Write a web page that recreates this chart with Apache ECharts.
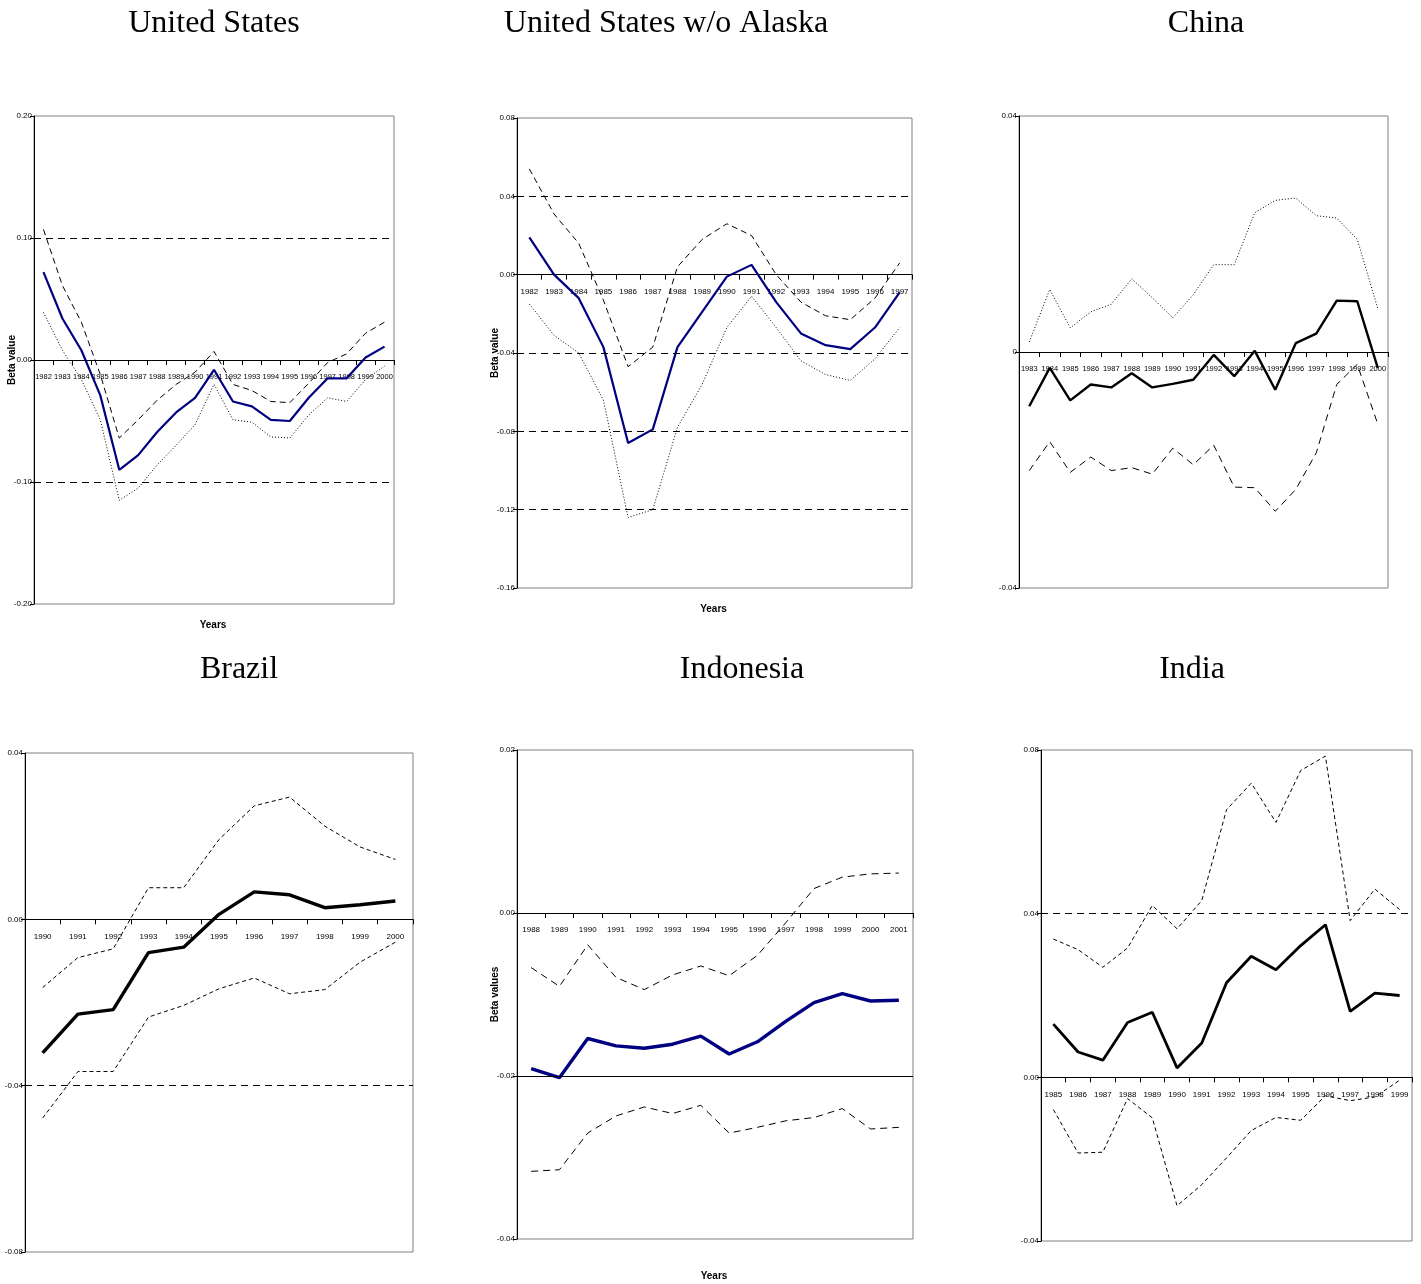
<!DOCTYPE html>
<html>
<head>
<meta charset="utf-8">
<title>Beta values by country</title>
<script src="https://cdn.jsdelivr.net/npm/echarts@6/dist/echarts.min.js"></script>
<style>
  html, body { margin: 0; padding: 0; background: #fff; }
  #chart { width: 1421px; height: 1284px; }
</style>
</head>
<body>
<div id="chart"></div>
<script>
// ---- United States ----
const usYears = ['1982','1983','1984','1985','1986','1987','1988','1989','1990','1991','1992','1993','1994','1995','1996','1997','1998','1999','2000'];
const usBeta  = [0.072, 0.034, 0.008, -0.029, -0.090, -0.078, -0.059, -0.043, -0.031, -0.008, -0.034, -0.038, -0.049, -0.050, -0.031, -0.015, -0.015, 0.002, 0.011];
const usUpper = [0.107, 0.061, 0.031, -0.012, -0.064, -0.049, -0.033, -0.020, -0.010, 0.007, -0.020, -0.025, -0.034, -0.035, -0.019, -0.002, 0.005, 0.022, 0.031];
const usLower = [0.039, 0.008, -0.016, -0.049, -0.115, -0.105, -0.086, -0.070, -0.053, -0.020, -0.049, -0.051, -0.063, -0.064, -0.045, -0.031, -0.034, -0.016, -0.005];
const usRefLines = [0.10, -0.10];

// ---- United States w/o Alaska ----
const usxYears = ['1982','1983','1984','1985','1986','1987','1988','1989','1990','1991','1992','1993','1994','1995','1996','1997'];
const usxBeta  = [0.019, 0.000, -0.012, -0.037, -0.086, -0.079, -0.037, -0.019, -0.001, 0.005, -0.014, -0.030, -0.036, -0.038, -0.027, -0.009];
const usxUpper = [0.054, 0.031, 0.016, -0.013, -0.047, -0.037, 0.004, 0.018, 0.026, 0.020, 0.000, -0.014, -0.021, -0.023, -0.012, 0.006];
const usxLower = [-0.015, -0.031, -0.040, -0.064, -0.124, -0.120, -0.078, -0.056, -0.027, -0.011, -0.027, -0.044, -0.051, -0.054, -0.043, -0.027];
const usxRefLines = [0.04, -0.04, -0.08, -0.12];

// ---- China ----
const cnYears = ['1983','1984','1985','1986','1987','1988','1989','1990','1991','1992','1993','1994','1995','1996','1997','1998','1999','2000'];
const cnBeta  = [-0.0092, -0.0027, -0.0082, -0.0055, -0.0060, -0.0036, -0.0060, -0.0054, -0.0047, -0.0005, -0.0041, 0.0002, -0.0064, 0.0015, 0.0031, 0.0087, 0.0086, -0.0027];
const cnUpper = [0.0017, 0.0106, 0.0041, 0.0068, 0.0081, 0.0124, 0.0092, 0.0058, 0.0097, 0.0148, 0.0148, 0.0236, 0.0257, 0.0261, 0.0231, 0.0227, 0.0191, 0.0074];
const cnLower = [-0.0201, -0.0152, -0.0204, -0.0178, -0.0201, -0.0196, -0.0207, -0.0163, -0.0191, -0.0158, -0.0229, -0.0230, -0.0270, -0.0233, -0.0171, -0.0055, -0.0021, -0.0122];
const cnRefLines = [];

// ---- Brazil ----
const brYears = ['1990','1991','1992','1993','1994','1995','1996','1997','1998','1999','2000'];
const brBeta  = [-0.0321, -0.0228, -0.0217, -0.0080, -0.0067, 0.0012, 0.0066, 0.0059, 0.0028, 0.0035, 0.0044];
const brUpper = [-0.0164, -0.0092, -0.0071, 0.0076, 0.0076, 0.0192, 0.0273, 0.0294, 0.0224, 0.0174, 0.0144];
const brLower = [-0.0478, -0.0366, -0.0366, -0.0235, -0.0207, -0.0167, -0.0141, -0.0179, -0.0169, -0.0103, -0.0055];
const brRefLines = [-0.04];

// ---- Indonesia ----
const idYears = ['1988','1989','1990','1991','1992','1993','1994','1995','1996','1997','1998','1999','2000','2001'];
const idBeta  = [-0.0191, -0.0202, -0.0154, -0.0163, -0.0166, -0.0161, -0.0151, -0.0173, -0.0158, -0.0133, -0.0110, -0.0099, -0.0108, -0.0107];
const idUpper = [-0.0067, -0.0090, -0.0039, -0.0079, -0.0094, -0.0076, -0.0065, -0.0077, -0.0052, -0.0012, 0.0030, 0.0044, 0.0048, 0.0049];
const idLower = [-0.0317, -0.0315, -0.0270, -0.0249, -0.0238, -0.0246, -0.0236, -0.0270, -0.0263, -0.0255, -0.0251, -0.0240, -0.0265, -0.0263];
const idRefLines = [-0.02];

// ---- India ----
const inYears = ['1985','1986','1987','1988','1989','1990','1991','1992','1993','1994','1995','1996','1997','1998','1999'];
const inBeta  = [0.0130, 0.0062, 0.0042, 0.0134, 0.0159, 0.0023, 0.0084, 0.0231, 0.0296, 0.0263, 0.0322, 0.0373, 0.0161, 0.0206, 0.0200];
const inUpper = [0.0338, 0.0312, 0.0269, 0.0316, 0.0420, 0.0363, 0.0432, 0.0654, 0.0719, 0.0623, 0.0750, 0.0785, 0.0383, 0.0460, 0.0410];
const inLower = [-0.0079, -0.0185, -0.0183, -0.0052, -0.0099, -0.0314, -0.0262, -0.0197, -0.0130, -0.0098, -0.0105, -0.0045, -0.0057, -0.0048, -0.0007];
const inRefLines = [0.04];

const NAVY = '#000080';
const TICK_FONT = "'Liberation Sans Narrow', 'Liberation Sans', sans-serif";
const TITLE_FONT = "'Liberation Serif', 'DejaVu Serif', serif";

const panels = [
  { name: 'United States', titleX: 214, titleY: 3, box: [34, 116, 360, 488],
    years: usYears, beta: usBeta, upper: usUpper, lower: usLower, refs: usRefLines,
    min: -0.2, max: 0.2, interval: 0.1, fmt: v => v.toFixed(2), xFont: 7.5,
    betaColor: NAVY, betaWidth: 2.2, upperDash: [6, 4], lowerDash: [1, 2], refSolid: false,
    yName: 'Beta value', xName: 'Years', xNameY: 615 },
  { name: 'United States w/o Alaska', titleX: 666, titleY: 3, box: [517, 118, 395, 470],
    years: usxYears, beta: usxBeta, upper: usxUpper, lower: usxLower, refs: usxRefLines,
    min: -0.16, max: 0.08, interval: 0.04, fmt: v => v.toFixed(2), xFont: 8,
    betaColor: NAVY, betaWidth: 2.2, upperDash: [6, 4], lowerDash: [1, 2], refSolid: false,
    yName: 'Beta value', xName: 'Years', xNameY: 599 },
  { name: 'China', titleX: 1206, titleY: 3, box: [1019, 116, 369, 472],
    years: cnYears, beta: cnBeta, upper: cnUpper, lower: cnLower, refs: cnRefLines,
    min: -0.04, max: 0.04, interval: 0.04, fmt: v => (Math.abs(v) < 1e-9 ? '0' : v.toFixed(2)), xFont: 7.5,
    betaColor: '#000', betaWidth: 2.4, upperDash: [1, 2], lowerDash: [7, 5], refSolid: false },
  { name: 'Brazil', titleX: 239, titleY: 649, box: [25, 753, 388, 499],
    years: brYears, beta: brBeta, upper: brUpper, lower: brLower, refs: brRefLines,
    min: -0.08, max: 0.04, interval: 0.04, fmt: v => v.toFixed(2), xFont: 8,
    betaColor: '#000', betaWidth: 3.4, upperDash: [4, 3], lowerDash: [4, 3], refSolid: false },
  { name: 'Indonesia', titleX: 742, titleY: 649, box: [517, 750, 396, 489],
    years: idYears, beta: idBeta, upper: idUpper, lower: idLower, refs: idRefLines,
    min: -0.04, max: 0.02, interval: 0.02, fmt: v => v.toFixed(2), xFont: 8,
    betaColor: NAVY, betaWidth: 3.4, upperDash: [7, 5], lowerDash: [7, 5], refSolid: true,
    yName: 'Beta values', xName: 'Years', xNameY: 1266 },
  { name: 'India', titleX: 1192, titleY: 649, box: [1041, 750, 371, 491],
    years: inYears, beta: inBeta, upper: inUpper, lower: inLower, refs: inRefLines,
    min: -0.04, max: 0.08, interval: 0.04, fmt: v => v.toFixed(2), xFont: 8,
    betaColor: '#000', betaWidth: 2.8, upperDash: [4, 3], lowerDash: [4, 3], refSolid: false }
];

const titles = [], grids = [], xAxes = [], yAxes = [], series = [];

panels.forEach((p, i) => {
  titles.push({
    text: p.name, left: p.titleX - 5, top: p.titleY, textAlign: 'center',
    textStyle: { fontFamily: TITLE_FONT, fontSize: 32, fontWeight: 'normal', color: '#000' }
  });
  if (p.xName) {
    titles.push({
      text: p.xName, left: p.box[0] + p.box[2] / 2 - 6, top: p.xNameY, textAlign: 'center',
      textStyle: { fontFamily: TICK_FONT, fontSize: 10, fontWeight: 'bold', color: '#000' }
    });
  }
  grids.push({
    left: p.box[0], top: p.box[1], width: p.box[2], height: p.box[3],
    show: true, borderColor: '#808080', borderWidth: 1, backgroundColor: '#fff'
  });
  // the category axis sits on the zero line of the value axis
  const zeroLift = (0 - p.min) / (p.max - p.min) * p.box[3];
  xAxes.push({
    type: 'category', gridIndex: i, data: p.years, boundaryGap: true,
    position: 'bottom', offset: -zeroLift,
    axisLine: { onZero: false, lineStyle: { color: '#000', width: 1 } },
    axisTick: { show: true, length: 5, lineStyle: { color: '#000' } },
    axisLabel: { interval: 0, margin: 13, fontFamily: TICK_FONT, fontSize: p.xFont, color: '#000', hideOverlap: false },
    splitLine: { show: false }
  });
  yAxes.push({
    type: 'value', gridIndex: i, min: p.min, max: p.max, interval: p.interval,
    name: p.yName || '', nameLocation: 'middle', nameGap: 17, nameMoveOverlap: false,
    nameTextStyle: { fontFamily: "'Liberation Sans', sans-serif", fontSize: 10, fontWeight: 'bold', color: '#000' },
    axisLine: { show: true, onZero: false, lineStyle: { color: '#000', width: 1 } },
    axisTick: { show: true, length: 4, lineStyle: { color: '#000' } },
    axisLabel: { margin: 2, fontFamily: TICK_FONT, fontSize: 8, color: '#000', formatter: p.fmt },
    splitLine: { show: false }
  });
  const common = { type: 'line', xAxisIndex: i, yAxisIndex: i, symbol: 'none', silent: true, z: 3 };
  series.push(Object.assign({}, common, {
    name: p.name + ' upper', data: p.upper,
    lineStyle: { color: '#000', width: 1, type: p.upperDash },
    markLine: p.refs.length ? {
      silent: true, symbol: 'none', label: { show: false },
      lineStyle: p.refSolid ? { color: '#000', width: 1, type: 'solid' } : { color: '#000', width: 1, type: [7, 5] },
      data: p.refs.map(v => ({ yAxis: v }))
    } : undefined
  }));
  series.push(Object.assign({}, common, {
    name: p.name + ' lower', data: p.lower,
    lineStyle: { color: '#000', width: 1, type: p.lowerDash }
  }));
  series.push(Object.assign({}, common, {
    name: p.name + ' beta', data: p.beta, z: 4,
    lineStyle: { color: p.betaColor, width: p.betaWidth, type: 'solid' }
  }));
});

const chart = echarts.init(document.getElementById('chart'), null, { renderer: 'canvas' });
chart.setOption({
  animation: false,
  backgroundColor: '#fff',
  title: titles,
  grid: grids,
  xAxis: xAxes,
  yAxis: yAxes,
  series: series
});
</script>
</body>
</html>
